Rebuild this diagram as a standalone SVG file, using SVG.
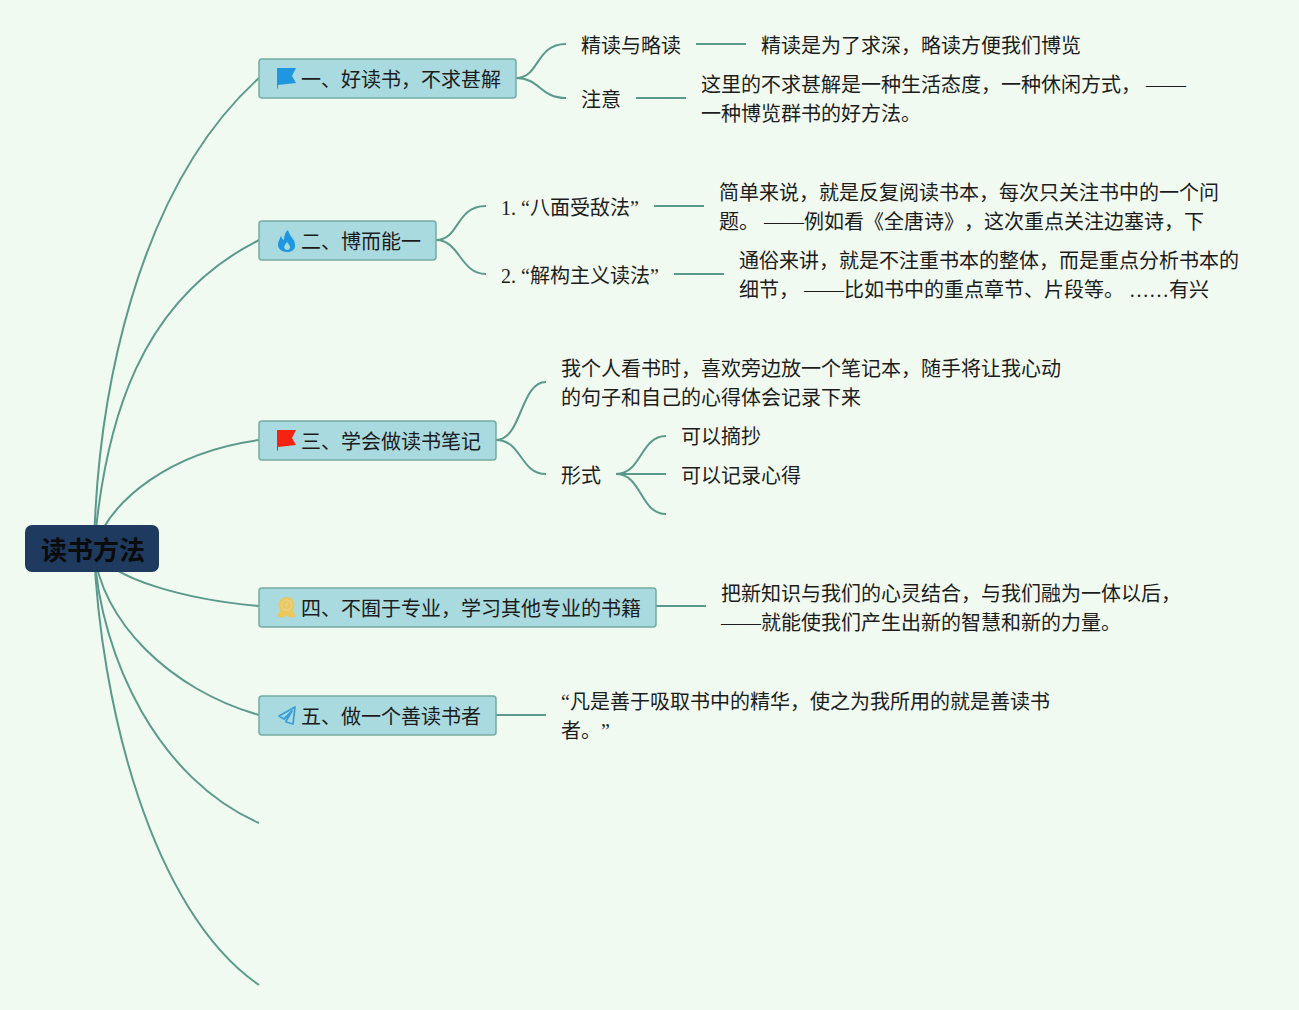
<svg xmlns="http://www.w3.org/2000/svg" width="1299" height="1010" viewBox="0 0 1299 1010">
<style>
text{font-family:"Liberation Serif","Noto Sans CJK SC",serif;font-size:20px;fill:#1c1c1c;text-spacing-trim:space-all;font-feature-settings:"chws" 0}
.c{fill:none;stroke:#5b9a8b;stroke-width:2}
.n{fill:#a9dadf;stroke:#74aca2;stroke-width:1.5}
</style>
<rect width="1299" height="1010" fill="#f1faf0"/>
<g id="connectors">
<path class="c" d="M94 549C97 400 135 190 259 78"/>
<path class="c" d="M94 549C105 420 140 300 259 240"/>
<path class="c" d="M94 549C110 500 170 452 259 440"/>
<path class="c" d="M94 549C110 580 190 600 259 606"/>
<path class="c" d="M94 549C100 620 170 690 259 715"/>
<path class="c" d="M94 549C100 660 160 780 259 823"/>
<path class="c" d="M94 549C100 700 150 910 259 985"/>
<path class="c" d="M516 78C540 78 535 44 566 44"/>
<path class="c" d="M516 78C540 78 540 98 566 98"/>
<path class="c" d="M696 44H746M636 98H686"/>
<path class="c" d="M436 240C460 240 455 206 486 206"/>
<path class="c" d="M436 240C460 240 460 274 486 274"/>
<path class="c" d="M654 206H704M674 274H724"/>
<path class="c" d="M496 440C522 440 520 382 546 382"/>
<path class="c" d="M496 440C522 440 520 474 546 474"/>
<path class="c" d="M616 474C642 474 640 436 666 436"/>
<path class="c" d="M616 474H666"/>
<path class="c" d="M616 474C642 474 640 514 666 514"/>
<path class="c" d="M656 606H706M496 715H546"/>
</g>
<g id="root"><rect x="25" y="525" width="134" height="47" rx="7" fill="#1f3a5f"/><text x="93" y="560" text-anchor="middle" style="font-size:26px;font-weight:700;fill:#0b0b0b">读书方法</text></g>
<g id="n1"><rect class="n" x="259" y="59" width="257" height="39" rx="3"/><path d="M277 68H296L292 76L296 83L278 85V88.500H277Z" fill="#1f97e0"/><text x="301" y="87">一、好读书，不求甚解</text></g>
<g id="n2"><rect class="n" x="259" y="221" width="177" height="39" rx="3"/><path d="M288 230C289 234 291 236 293 239C295 242 295 244 295 246C295 250 291 252 287 252C282 252 278 249 278 245C278 241 280 239 281 236C282 238 282 239 284 240C284 236 285 232 288 230ZM287 242C285 245 283 247 285 249C287 251 290 250 290 247C290 245 288 244 287 242Z" fill="#1f97e0" fill-rule="evenodd"/><text x="301" y="249">二、博而能一</text></g>
<g id="n3"><rect class="n" x="259" y="421" width="237" height="39" rx="3"/><path d="M277 430H296L292 438L296 445L278 447V450.500H277Z" fill="#f5230f"/><text x="301" y="449">三、学会做读书笔记</text></g>
<g id="n4"><rect class="n" x="259" y="588" width="397" height="39" rx="3"/><path d="M281 611L278 616L283 617L286 614L290 617L295 616L292 611" fill="#ecc85c" stroke="#ecc85c" stroke-width="1.500"/><circle cx="286.500" cy="605" r="7" fill="#e6d083" stroke="#ecc85c" stroke-width="2"/><circle cx="286.500" cy="605" r="3" fill="none" stroke="#ecc85c" stroke-width="2"/><text x="301" y="616">四、不囿于专业，学习其他专业的书籍</text></g>
<g id="n5"><rect class="n" x="259" y="696" width="237" height="39" rx="3"/><path d="M295 707L279 716L284 719L292 711L286 721V722L293 724Z" fill="none" stroke="#3a9fdc" stroke-width="1.800" stroke-linejoin="round"/><text x="301" y="724">五、做一个善读书者</text></g>
<g id="t1a"><text x="581" y="53">精读与略读</text></g>
<g id="t1b"><text x="761" y="53">精读是为了求深，略读方便我们博览</text></g>
<g id="t1c"><text x="581" y="107">注意</text></g>
<g id="t1d"><text x="701" y="92">这里的不求甚解是一种生活态度，一种休闲方式， ——</text><text x="701" y="121">一种博览群书的好方法。</text></g>
<g id="t2a"><text x="501" y="215">1. “八面受敌法”</text></g>
<g id="t2b"><text x="719" y="200">简单来说，就是反复阅读书本，每次只关注书中的一个问</text><text x="719" y="229">题。  ——例如看《全唐诗》，这次重点关注边塞诗，下</text></g>
<g id="t2c"><text x="501" y="283">2. “解构主义读法”</text></g>
<g id="t2d"><text x="739" y="268">通俗来讲，就是不注重书本的整体，而是重点分析书本的</text><text x="739" y="297">细节，  ——比如书中的重点章节、片段等。  ……有兴</text></g>
<g id="t3a"><text x="561" y="376">我个人看书时，喜欢旁边放一个笔记本，随手将让我心动</text><text x="561" y="405">的句子和自己的心得体会记录下来</text></g>
<g id="t3b"><text x="561" y="483">形式</text></g>
<g id="t3c"><text x="681" y="444">可以摘抄</text></g>
<g id="t3d"><text x="681" y="483">可以记录心得</text></g>
<g id="t4"><text x="721" y="601">把新知识与我们的心灵结合，与我们融为一体以后，</text><text x="721" y="630">——就能使我们产生出新的智慧和新的力量。</text></g>
<g id="t5"><text x="561" y="709">“凡是善于吸取书中的精华，使之为我所用的就是善读书</text><text x="561" y="738">者。”</text></g>
</svg>
